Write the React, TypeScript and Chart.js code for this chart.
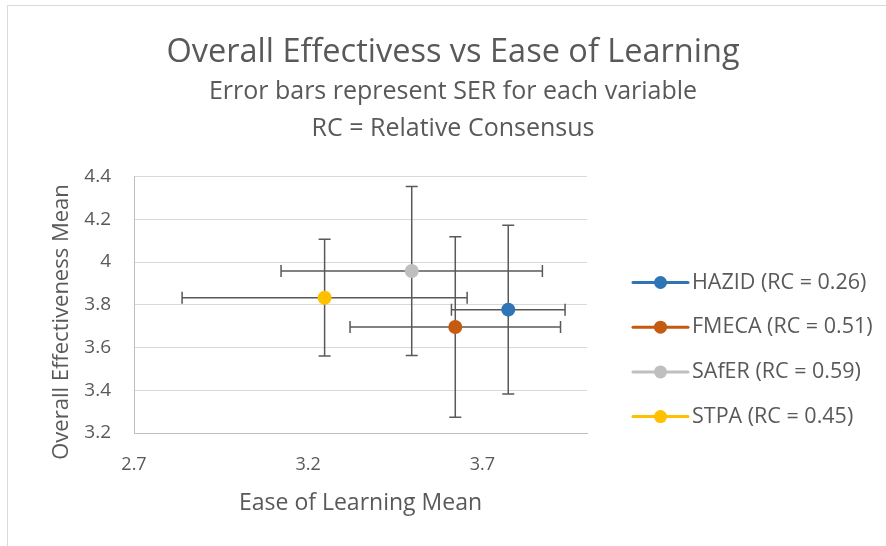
import React, { useEffect, useRef } from 'react';
import { Chart, registerables } from 'chart.js';

Chart.register(...registerables);
Chart.defaults.font.family = '"Open Sans", sans-serif';

const seriesNames = ['HAZID (RC = 0.26)', 'FMECA (RC = 0.51)', 'SAfER (RC = 0.59)', 'STPA (RC = 0.45)'];
const seriesColors = ['#2E75B6', '#C55A11', '#BFBFBF', '#FFC000'];
const easeMeans = [3.774, 3.622, 3.497, 3.247];
const effectMeans = [3.777, 3.696, 3.958, 3.833];
const easeErr = [0.163, 0.302, 0.375, 0.409];
const effectErr = [0.395, 0.422, 0.395, 0.273];
const xTickValues = [2.7, 3.2, 3.7];
const yTickValues = [3.2, 3.4, 3.6, 3.8, 4, 4.2, 4.4];
const yAxisTitle = 'Overall Effectiveness Mean';

const TEXT = '#595959';

const errorBarPlugin = {
  id: 'errorBars',
  beforeDatasetsDraw(chart: any) {
    const { ctx, scales } = chart;
    const x = scales.x;
    const y = scales.y;
    ctx.save();
    ctx.strokeStyle = '#595959';
    ctx.lineWidth = 1.5;
    const cap = 6;
    chart.data.datasets.forEach((ds: any) => {
      ds.data.forEach((p: any) => {
        const cx = x.getPixelForValue(p.x);
        const cy = y.getPixelForValue(p.y);
        const xl = x.getPixelForValue(p.x - p.xErr);
        const xr = x.getPixelForValue(p.x + p.xErr);
        const yt = y.getPixelForValue(p.y + p.yErr);
        const yb = y.getPixelForValue(p.y - p.yErr);
        ctx.beginPath();
        ctx.moveTo(xl, cy); ctx.lineTo(xr, cy);
        ctx.moveTo(xl, cy - cap); ctx.lineTo(xl, cy + cap);
        ctx.moveTo(xr, cy - cap); ctx.lineTo(xr, cy + cap);
        ctx.moveTo(cx, yt); ctx.lineTo(cx, yb);
        ctx.moveTo(cx - cap, yt); ctx.lineTo(cx + cap, yt);
        ctx.moveTo(cx - cap, yb); ctx.lineTo(cx + cap, yb);
        ctx.stroke();
      });
    });
    ctx.restore();
  },
};

const yTitlePlugin = {
  id: 'yTitle',
  afterDraw(chart: any) {
    const { ctx, chartArea } = chart;
    ctx.save();
    ctx.translate(62, chartArea.bottom - 111);
    ctx.rotate(-Math.PI / 2);
    ctx.fillStyle = TEXT;
    ctx.font = '22px "Open Sans", sans-serif';
    ctx.textAlign = 'center';
    ctx.textBaseline = 'middle';
    ctx.fillText(yAxisTitle, 0, 0);
    ctx.restore();
  },
};

const sideLegendPlugin = {
  id: 'sideLegend',
  afterDraw(chart: any) {
    const { ctx, chartArea } = chart;
    const x0 = chartArea.right + 46;
    const lineLen = 55;
    const y0 = chartArea.top + 106;
    const gap = 44.7;
    ctx.save();
    chart.data.datasets.forEach((ds: any, i: number) => {
      const yy = y0 + i * gap;
      ctx.strokeStyle = ds.backgroundColor;
      ctx.lineWidth = 3;
      ctx.lineCap = 'round';
      ctx.beginPath();
      ctx.moveTo(x0, yy);
      ctx.lineTo(x0 + lineLen, yy);
      ctx.stroke();
      ctx.fillStyle = ds.backgroundColor;
      ctx.beginPath();
      ctx.arc(x0 + lineLen / 2, yy, 6.5, 0, Math.PI * 2);
      ctx.fill();
      ctx.fillStyle = TEXT;
      ctx.font = '21.5px "Open Sans", sans-serif';
      ctx.textAlign = 'left';
      ctx.textBaseline = 'middle';
      ctx.fillText(ds.label, x0 + lineLen + 4, yy);
    });
    ctx.restore();
  },
};

export default function App() {
  const ref = useRef<HTMLCanvasElement>(null);
  useEffect(() => {
    if (!ref.current) return;
    const datasets = seriesNames.map((name, i) => ({
      label: name,
      data: [{ x: easeMeans[i], y: effectMeans[i], xErr: easeErr[i], yErr: effectErr[i] }],
      backgroundColor: seriesColors[i],
      borderColor: seriesColors[i],
      pointRadius: 7,
      pointHoverRadius: 7,
      pointBorderWidth: 0,
      showLine: false,
    }));
    const chart = new Chart(ref.current, {
      type: 'scatter',
      data: { datasets },
      options: {
        responsive: false,
        animation: false,
        events: [],
        layout: { padding: { left: 20, right: 0, top: 0, bottom: 0 } },
        plugins: {
          legend: { display: false },
          tooltip: { enabled: false },
          title: {
            display: true,
            text: 'Overall Effectivess vs Ease of Learning',
            color: TEXT,
            font: { size: 32.5, weight: 'normal', lineHeight: 1.2 },
            padding: { top: 33, bottom: 0 },
          },
          subtitle: {
            display: true,
            text: ['Error bars represent SER for each variable', 'RC = Relative Consensus'],
            color: TEXT,
            font: { size: 25, weight: 'normal', lineHeight: 37 / 25 },
            padding: { top: 1, bottom: 29.5 },
          },
        },
        scales: {
          x: {
            type: 'linear',
            min: 2.7,
            max: 4.0,
            afterBuildTicks: (s: any) => { s.ticks = xTickValues.map((v) => ({ value: v })); },
            afterFit: (s: any) => { s.height = 113; },
            grid: { display: false, drawTicks: false },
            border: { display: true, color: '#BFBFBF', width: 1 },
            ticks: { color: TEXT, font: { size: 18 }, padding: 21, callback: (v: any) => String(v) },
            title: { display: true, text: 'Ease of Learning Mean', color: TEXT, font: { size: 23 }, padding: { top: 0, bottom: 29 } },
          },
          y: {
            type: 'linear',
            min: 3.2,
            max: 4.4,
            afterBuildTicks: (s: any) => { s.ticks = yTickValues.map((v) => ({ value: v })); },
            afterFit: (s: any) => { s.width = 114; },
            grid: { color: '#D9D9D9', lineWidth: 1, drawTicks: false },
            border: { display: true, color: '#BFBFBF', width: 1 },
            ticks: { color: TEXT, font: { size: 19 }, padding: 23, callback: (v: any) => String(v) },
            title: { display: false },
          },
          legendSpace: {
            type: 'linear',
            position: 'right',
            display: true,
            grid: { display: false, drawTicks: false },
            border: { display: false },
            ticks: { display: false },
            afterFit: (s: any) => { s.width = 299; },
          },
        },
      },
      plugins: [errorBarPlugin, yTitlePlugin, sideLegendPlugin],
    } as any);
    return () => chart.destroy();
  }, []);
  return (
    <div style={{ position: 'absolute', left: 0, top: 0, width: 886, height: 546, overflow: 'hidden', background: '#fff' }}>
      <div style={{ position: 'absolute', left: 7, top: 5, width: 1000, height: 1000, border: '1px solid #D9D9D9' }} />
      <canvas ref={ref} width={886} height={546} style={{ position: 'absolute', left: 0, top: 0 }} />
    </div>
  );
}
